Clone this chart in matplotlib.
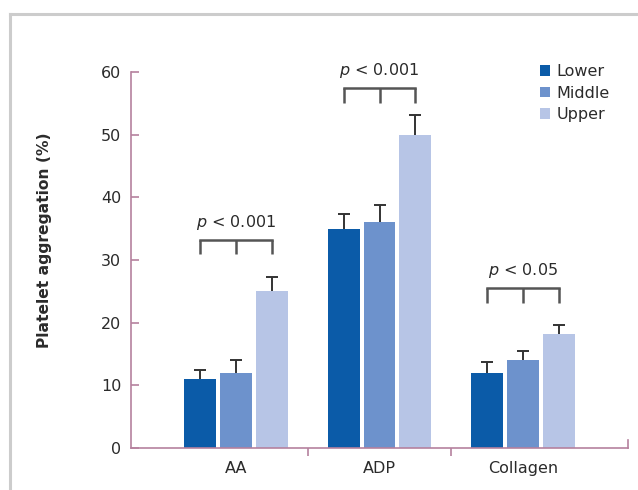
import matplotlib
matplotlib.use("Agg")
import matplotlib.pyplot as plt
from matplotlib.lines import Line2D
import numpy as np

plt.rcParams['font.family'] = ['DejaVu Sans']
plt.rcParams['mathtext.fontset'] = 'custom'
plt.rcParams['mathtext.rm'] = 'DejaVu Sans'
plt.rcParams['mathtext.it'] = 'DejaVu Sans:italic'

categories = ["AA", "ADP", "Collagen"]
series = ["Lower", "Middle", "Upper"]
lower = [11, 35, 12]
middle = [12, 36, 14]
upper = [25, 50, 18.2]
lower_err = [1.5, 2.4, 1.8]
middle_err = [2.0, 2.8, 1.5]
upper_err = [2.3, 3.2, 1.4]
p_labels = ["< 0.001", "< 0.001", "< 0.05"]
bracket_y = [33.2, 57.4, 25.5]
yticks = [0, 10, 20, 30, 40, 50, 60]

colors = ["#0b5ba8", "#6d92cc", "#b7c5e6"]
axis_color = "#b5819e"
text_color = "#2b2b2b"
fs = 11.5

fig = plt.figure(figsize=(6.38, 4.9), dpi=100)
ax = fig.add_axes([131/638, 1-448/490, (628-131)/638, (448-72)/490])

x = np.arange(len(categories))
width = 0.222
offs = [-0.25, 0.0, 0.25]
vals = [lower, middle, upper]
errs = [lower_err, middle_err, upper_err]
for i in range(3):
    ax.bar(x + offs[i], vals[i], width, color=colors[i], label=series[i], zorder=2)
    eb = ax.errorbar(x + offs[i], vals[i], yerr=[np.zeros(3), errs[i]], fmt='none',
                     ecolor="#333333", elinewidth=1.4, capsize=4.5, capthick=1.4, zorder=3)
    caps = eb[1]
    if len(caps) == 2:
        caps[0].set_visible(False)

ax.set_xlim(-0.73, 2.73)
ax.set_ylim(0, 60)

for s in ["top", "right"]:
    ax.spines[s].set_visible(False)
for s in ["left", "bottom"]:
    ax.spines[s].set_color(axis_color)
    ax.spines[s].set_linewidth(1.2)

ax.set_yticks(yticks)
ax.set_yticklabels([str(t) for t in yticks])
ax.tick_params(axis='y', direction='in', length=6, width=1.2, color=axis_color,
               labelsize=fs, labelcolor=text_color, pad=7)
ax.set_xticks([0.5, 1.5])
ax.set_xticklabels(["", ""])
ax.tick_params(axis='x', which='major', direction='out', length=6, width=1.2, color=axis_color)
ax.set_xticks(x, minor=True)
ax.set_xticklabels(categories, minor=True)
ax.tick_params(axis='x', which='minor', length=0, labelsize=fs, labelcolor=text_color, pad=9)
ax.plot([2.73, 2.73], [0, 1.3], color=axis_color, lw=1.2, clip_on=False, zorder=4)

ax.set_ylabel("Platelet aggregation (%)", fontsize=11.2, fontweight='bold', color=text_color)
ax.yaxis.set_label_coords((52-131)/497, (448-240)/376)

for k in range(3):
    yb = bracket_y[k]
    xs = x[k] + np.array(offs)
    ax.plot([xs[0], xs[2]], [yb, yb], color="#555555", lw=1.8, solid_capstyle='projecting', zorder=3)
    for xv in xs:
        ax.plot([xv, xv], [yb - 2.3, yb], color="#555555", lw=1.8, solid_capstyle='butt', zorder=3)
    ax.text(x[k], yb + 1.3, r"$p$" + " " + p_labels[k], ha='center', va='bottom',
            fontsize=fs, color=text_color)

leg = ax.legend(loc='upper left', bbox_to_anchor=((540-131)/497, (448-64)/376), frameon=False,
                fontsize=fs, handlelength=0.65, handleheight=0.65, handletextpad=0.4,
                labelspacing=0.42, borderaxespad=0, borderpad=0)
for t in leg.get_texts():
    t.set_color(text_color)

# outer frame (top and left edges)
fig.add_artist(Line2D([10/638, 1.0], [1-14/490, 1-14/490], color="#cccccc", lw=2.2))
fig.add_artist(Line2D([10/638, 10/638], [0, 1-14/490], color="#cccccc", lw=2.2))

fig.savefig("out.png", dpi=100)
